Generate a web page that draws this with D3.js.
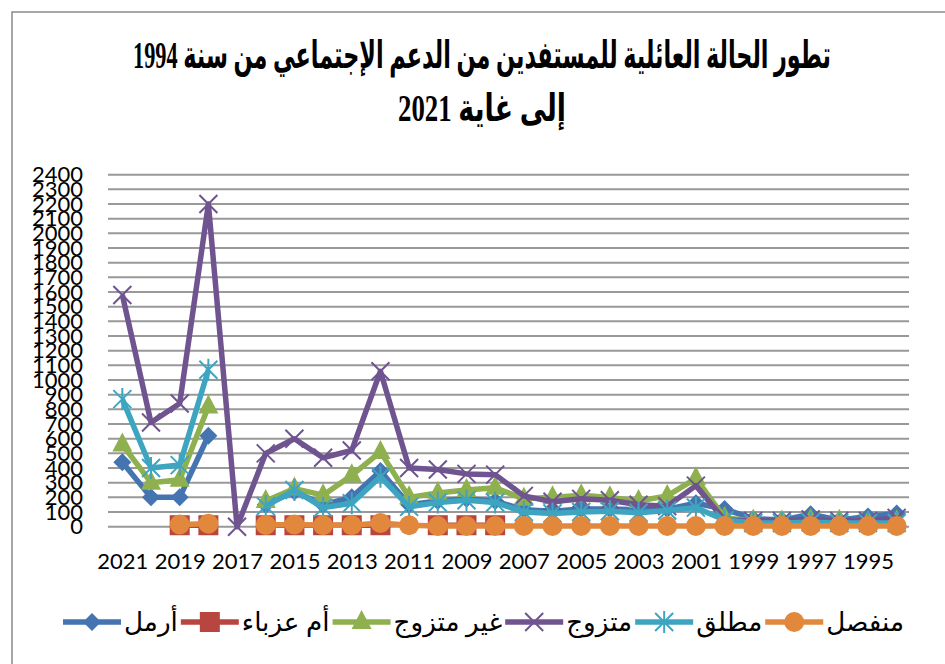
<!DOCTYPE html>
<html>
<head>
<meta charset="utf-8">
<script src="https://cdn.jsdelivr.net/npm/d3@7"></script>
<style>
  body { margin: 0; background: #fff; }
  .tick text { font-family: Lato, "Open Sans", sans-serif; font-size: 22px; fill: #000; }
</style>
</head>
<body>
<svg id="chart" width="945" height="664"></svg>
<script>
var years = [2021, 2020, 2019, 2018, 2017, 2016, 2015, 2014, 2013, 2012, 2011, 2010, 2009, 2008,
  2007, 2006, 2005, 2004, 2003, 2002, 2001, 2000, 1999, 1998, 1997, 1996, 1995, 1994];

var seriesNames = ['أرمل', 'أم عزباء', 'غير متزوج', 'متزوج', 'مطلق', 'منفصل'];

// values follow the years array (2021 -> 1994), null = no value
var widowed = [440, 200, 200, 620, null, 150, 240, 150, 200, 380, 150, 175, 190, 175,
  115, 105, 120, 120, 115, 120, 160, 120, 55, 45, 85, 45, 70, 90];
var singleMother = [null, null, 10, 10, null, 10, 10, 10, 10, 10, null, 10, 10, 10,
  null, null, null, null, null, null, null, null, null, null, null, null, null, null];
var unmarried = [560, 300, 320, 820, null, 175, 260, 215, 350, 510, 200, 230, 250, 265,
  190, 200, 215, 200, 175, 210, 330, 60, 40, 35, 45, 40, 30, 35];
var married = [1580, 710, 840, 2200, 0, 500, 600, 470, 520, 1060, 400, 390, 360, 355,
  210, 170, 190, 180, 150, 140, 280, 45, 40, 40, 50, 40, 40, 60];
var divorced = [870, 400, 420, 1070, null, 140, 250, 130, 160, 340, 135, 165, 180, 165,
  100, 90, 100, 105, 95, 110, 130, 45, 25, 25, 30, 25, 25, 25];
var separated = [null, null, 15, 20, null, 12, 15, 10, 10, 25, 10, 5, 5, 5,
  5, 5, 5, 5, 5, 5, 5, 5, 5, 5, 5, 5, 5, 5];

var yTicks = d3.range(0, 2401, 100);
var xTickYears = years.filter(function(d, i) { return i % 2 === 0 && d !== 1994; });

var colors = ['#4575b0', '#b8453f', '#8fb04e', '#6f5490', '#3ea5c1', '#e2883c'];
var markers = ['diamond', 'square', 'triangle', 'cross', 'star', 'circle'];
var allSeries = [widowed, singleMother, unmarried, married, divorced, separated];

var svg = d3.select('#chart');

// outer frame (only top and left edges are inside the picture)
svg.append('rect')
  .attr('x', 12).attr('y', 12)
  .attr('width', 960).attr('height', 680)
  .attr('fill', 'none')
  .attr('stroke', '#8a8a8a')
  .attr('stroke-width', 1.5);

// title, squeezed to the width it has in the original
var titleLines = ['تطور الحالة العائلية للمستفدين من الدعم الإجتماعي من سنة 1994', 'إلى غاية 2021'];
var titleBase = [68, 121];
var titleWidth = [698, 168];
titleLines.forEach(function(t, i) {
  svg.append('text')
    .attr('x', 482)
    .attr('y', titleBase[i])
    .attr('text-anchor', 'middle')
    .attr('direction', 'rtl')
    .attr('font-family', '"Liberation Serif", "DejaVu Sans", serif')
    .attr('font-weight', 'bold')
    .attr('font-size', 38)
    .attr('textLength', titleWidth[i])
    .attr('lengthAdjust', 'spacingAndGlyphs')
    .text(t);
});

var x = d3.scalePoint()
  .domain(years)
  .range([108, 911])
  .padding(0.5);

var y = d3.scaleLinear()
  .domain([0, 2400])
  .range([526.7, 174.7]);

// gridlines
svg.append('g')
  .selectAll('line')
  .data(yTicks)
  .join('line')
  .attr('x1', 108)
  .attr('x2', 909)
  .attr('y1', function(d) { return y(d); })
  .attr('y2', function(d) { return y(d); })
  .attr('stroke', '#999')
  .attr('stroke-width', 2);

// y axis
var yAxis = svg.append('g')
  .attr('transform', 'translate(83,0)')
  .call(d3.axisLeft(y).tickValues(yTicks).tickSize(0).tickPadding(0).tickFormat(d3.format('d')));
yAxis.select('.domain').remove();

// x axis
var xAxis = svg.append('g')
  .attr('transform', 'translate(0,' + y(0) + ')')
  .call(d3.axisBottom(x).tickValues(xTickYears).tickSize(0).tickPadding(27));
xAxis.select('.domain').remove();

function drawMarker(g, type, color) {
  if (type === 'diamond') {
    g.append('path').attr('d', 'M0,-9L9,0L0,9L-9,0Z').attr('fill', color);
  } else if (type === 'square') {
    g.append('rect').attr('x', -10).attr('y', -10).attr('width', 20).attr('height', 20).attr('fill', color);
  } else if (type === 'triangle') {
    g.append('path').attr('d', 'M0,-12L10,7L-10,7Z').attr('fill', color);
  } else if (type === 'cross') {
    g.append('path').attr('d', 'M-9,-9L9,9M9,-9L-9,9')
      .attr('stroke', color).attr('stroke-width', 2).attr('fill', 'none');
  } else if (type === 'star') {
    g.append('path').attr('d', 'M-9,-9L9,9M9,-9L-9,9M0,-11L0,11')
      .attr('stroke', color).attr('stroke-width', 2).attr('fill', 'none');
  } else if (type === 'circle') {
    g.append('circle').attr('r', 10).attr('fill', color);
  }
}

var line = d3.line()
  .defined(function(d) { return d.v !== null; })
  .x(function(d) { return x(d.year); })
  .y(function(d) { return y(d.v); });

var plot = svg.append('g');
allSeries.forEach(function(values, s) {
  var pts = years.map(function(yr, i) { return {year: yr, v: values[i]}; });
  var g = plot.append('g').attr('class', 'series');
  g.append('path')
    .attr('d', line(pts))
    .attr('fill', 'none')
    .attr('stroke', colors[s])
    .attr('stroke-width', 5.5)
    .attr('stroke-linejoin', 'round');
  pts.filter(function(d) { return d.v !== null; }).forEach(function(d) {
    var m = g.append('g').attr('transform', 'translate(' + x(d.year) + ',' + y(d.v) + ')');
    drawMarker(m, markers[s], colors[s]);
  });
});

// legend: marker sample to the left of each label, items left to right,
// labels squeezed so the whole row spans the width it has in the original
var legend = svg.append('g');
var legendY = 622, sampleW = 58, gap = 3, legendLeft = 63, legendRight = 904;
var labels = seriesNames.map(function(name) {
  return legend.append('text')
    .attr('y', legendY + 9)
    .attr('font-family', '"Liberation Serif", "DejaVu Sans", serif')
    .attr('font-size', 26)
    .text(name);
});
var rawW = labels.map(function(t) { return t.node().getComputedTextLength(); });
var fixedW = seriesNames.length * (sampleW + 2 * gap) - gap;
var k = (legendRight - legendLeft - fixedW) / d3.sum(rawW);
var lx = legendLeft;
seriesNames.forEach(function(name, s) {
  legend.append('line')
    .attr('x1', lx).attr('x2', lx + sampleW)
    .attr('y1', legendY).attr('y2', legendY)
    .attr('stroke', colors[s]).attr('stroke-width', 5.5);
  var m = legend.append('g').attr('transform', 'translate(' + (lx + sampleW / 2) + ',' + legendY + ')');
  drawMarker(m, markers[s], colors[s]);
  var w = rawW[s] * k;
  labels[s]
    .attr('x', lx + sampleW + gap)
    .attr('textLength', w)
    .attr('lengthAdjust', 'spacingAndGlyphs');
  lx += sampleW + gap + w + gap;
});
</script>
</body>
</html>
